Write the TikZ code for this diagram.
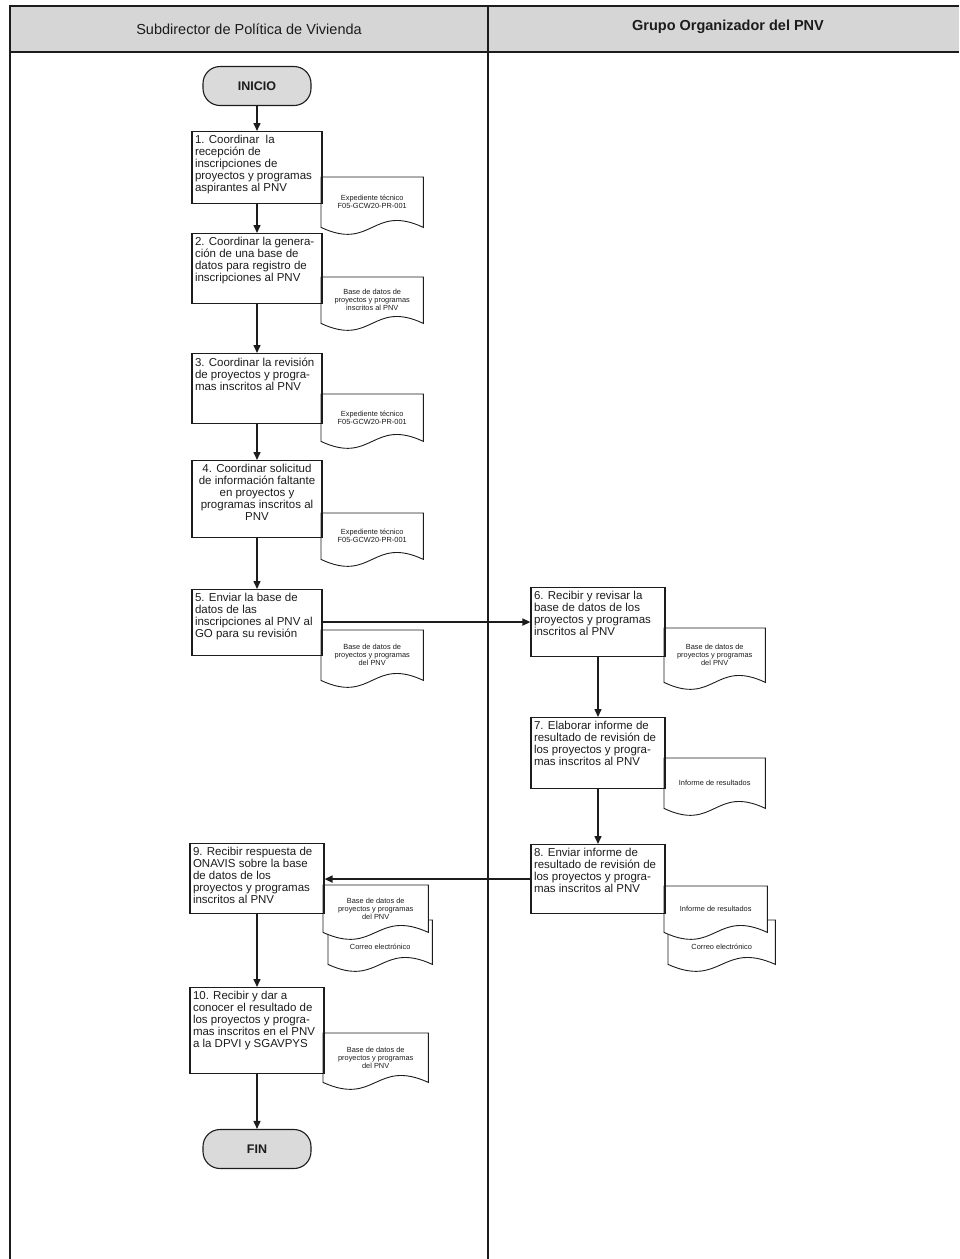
\documentclass[tikz,border=0pt]{standalone}
\usepackage{fontspec}
\setmainfont{Liberation Sans}
\usetikzlibrary{arrows.meta,calc}

\definecolor{headgray}{RGB}{214,214,214}
\definecolor{termgray}{RGB}{218,218,218}
\definecolor{ink}{RGB}{28,28,28}

\pgfdeclarelayer{docs}
\pgfsetlayers{docs,main}

% outline of a document symbol (wavy bottom) around a named node
\newcommand\docwave[1]{%
  \begin{pgfonlayer}{docs}
    \draw[docline] (#1.south west) -- (#1.north west) -- (#1.north east) -- (#1.south east)
      .. controls ($(#1.south)+(0,-24)$) and ($(#1.south)+(0,24)$) .. (#1.south west) -- cycle;
  \end{pgfonlayer}}

\begin{document}
\begin{tikzpicture}[x=1pt,y=-1pt,
  frameline/.style={draw=ink, line width=1.2pt},
  headtext/.style={font=\fontsize{14.5}{16}\selectfont, text=ink},
  stepbox/.style={draw=ink, line width=1.1pt, inner xsep=3pt, inner ysep=4pt,
    anchor=north, font=\fontsize{11.5}{12}\selectfont, text=ink},
  termnode/.style={draw=ink, line width=1.1pt, fill=termgray, rounded corners=17pt,
    minimum width=108pt, minimum height=39pt, font=\bfseries\fontsize{12.5}{14}\selectfont, text=ink},
  docnode/.style={draw=none, anchor=north west, inner sep=1pt, align=center,
    font=\fontsize{7.4}{8}\selectfont, text=ink},
  docline/.style={draw=ink, line width=0.9pt, fill=white},
  flow/.style={draw=ink, line width=1.5pt, -{Triangle[length=8pt,width=7pt]}}]

\useasboundingbox (0,0) rectangle (959,1259);

% swimlane frame
\fill[headgray] (10,6) rectangle (959,52);
\draw[frameline] (959,6) -- (10,6) -- (10,1259);
\draw[frameline] (10,52) -- (959,52);
\draw[frameline] (488,6) -- (488,1259);
\node[headtext] (lane1) at (249,29) {Subdirector de Política de Vivienda};
\node[headtext, font=\bfseries\fontsize{14.5}{16}\selectfont] (lane2) at (728,27) {Grupo Organizador del PNV};

% terminals
\node[termnode] (inicio) at (257,86) {INICIO};
\node[termnode] (fin) at (257,1149) {FIN};

% steps of the first lane
\node[stepbox] (b1) at (257,131) {\parbox[c][64pt][t]{124pt}{\raggedright
  1. Coordinar \ la\\recepción de\\inscripciones de\\proyectos y programas\\aspirantes al PNV}};
\node[stepbox] (b2) at (257,233) {\parbox[c][62pt][t]{124pt}{\raggedright
  2. Coordinar la genera-\\ción de una base de\\datos para registro de\\inscripciones al PNV}};
\node[stepbox] (b3) at (257,353) {\parbox[c][62pt][t]{124pt}{\raggedright
  3. Coordinar la revisión\\de proyectos y progra-\\mas inscritos al PNV}};
\node[stepbox] (b4) at (257,460) {\parbox[c][69pt][t]{124pt}{\centering
  4. Coordinar solicitud\\de información faltante\\en proyectos y\\programas inscritos al\\PNV}};
\node[stepbox] (b5) at (257,589) {\parbox[c][58pt][t]{124pt}{\raggedright
  5. Enviar la base de\\datos de las\\inscripciones al PNV al\\GO para su revisión}};
\node[stepbox] (b9) at (257,843) {\parbox[c][62pt][t]{128pt}{\raggedright
  9. Recibir respuesta de\\ONAVIS sobre la base\\de datos de los\\proyectos y programas\\inscritos al PNV}};
\node[stepbox] (b10) at (257,987) {\parbox[c][78pt][t]{128pt}{\raggedright
  10. Recibir y dar a\\conocer el resultado de\\los proyectos y progra-\\mas inscritos en el PNV\\a la DPVI y SGAVPYS}};

% steps of the second lane
\node[stepbox] (b6) at (598,587) {\parbox[c][61pt][t]{128pt}{\raggedright
  6. Recibir y revisar la\\base de datos de los\\proyectos y programas\\inscritos al PNV}};
\node[stepbox] (b7) at (598,717) {\parbox[c][63pt][t]{128pt}{\raggedright
  7. Elaborar informe de\\resultado de revisión de\\los proyectos y progra-\\mas inscritos al PNV}};
\node[stepbox] (b8) at (598,844) {\parbox[c][61pt][t]{128pt}{\raggedright
  8. Enviar informe de\\resultado de revisión de\\los proyectos y progra-\\mas inscritos al PNV}};

% documents
\node[docnode, minimum width=102pt, minimum height=50pt] (d1) at (321,177) {Expediente técnico\\F05-GCW20-PR-001};
\node[docnode, minimum width=102pt, minimum height=46pt] (d2) at (321,277) {Base de datos de\\proyectos y programas\\inscritos al PNV};
\node[docnode, minimum width=102pt, minimum height=47pt] (d3) at (321,394) {Expediente técnico\\F05-GCW20-PR-001};
\node[docnode, minimum width=102pt, minimum height=46pt] (d4) at (321,513) {Expediente técnico\\F05-GCW20-PR-001};
\node[docnode, minimum width=102pt, minimum height=50pt] (d5) at (321,630) {Base de datos de\\proyectos y programas\\del PNV};
\node[docnode, minimum width=101pt, minimum height=54pt] (d6) at (664,628) {Base de datos de\\proyectos y programas\\del PNV};
\node[docnode, minimum width=101pt, minimum height=50pt] (d7) at (664,758) {Informe de resultados};
\node[docnode, minimum width=107pt, minimum height=44pt] (d8b) at (668,920) {\\[6pt]Correo electrónico};
\node[docnode, minimum width=103pt, minimum height=46pt] (d8a) at (664,886) {Informe de resultados};
\node[docnode, minimum width=104pt, minimum height=44pt] (d9b) at (328,920) {\\[6pt]Correo electrónico};
\node[docnode, minimum width=105pt, minimum height=47pt] (d9a) at (323,885) {Base de datos de\\proyectos y programas\\del PNV};
\node[docnode, minimum width=105pt, minimum height=49pt] (d10) at (323,1033) {Base de datos de\\proyectos y programas\\del PNV};

\docwave{d1}
\docwave{d2}
\docwave{d3}
\docwave{d4}
\docwave{d5}
\docwave{d6}
\docwave{d7}
\docwave{d8b}
\docwave{d8a}
\docwave{d9b}
\docwave{d9a}
\docwave{d10}

% flow connectors
\draw[flow] (inicio) -- (b1);
\draw[flow] (b1) -- (b2);
\draw[flow] (b2) -- (b3);
\draw[flow] (b3) -- (b4);
\draw[flow] (b4) -- (b5);
\draw[flow] (b5.east |- b6) -- (b6);
\draw[flow] (b6) -- (b7);
\draw[flow] (b7) -- (b8);
\draw[flow] (b8.west) -- (b8.west -| b9.east);
\draw[flow] (b9) -- (b10);
\draw[flow] (b10) -- (fin);

\end{tikzpicture}
\end{document}
